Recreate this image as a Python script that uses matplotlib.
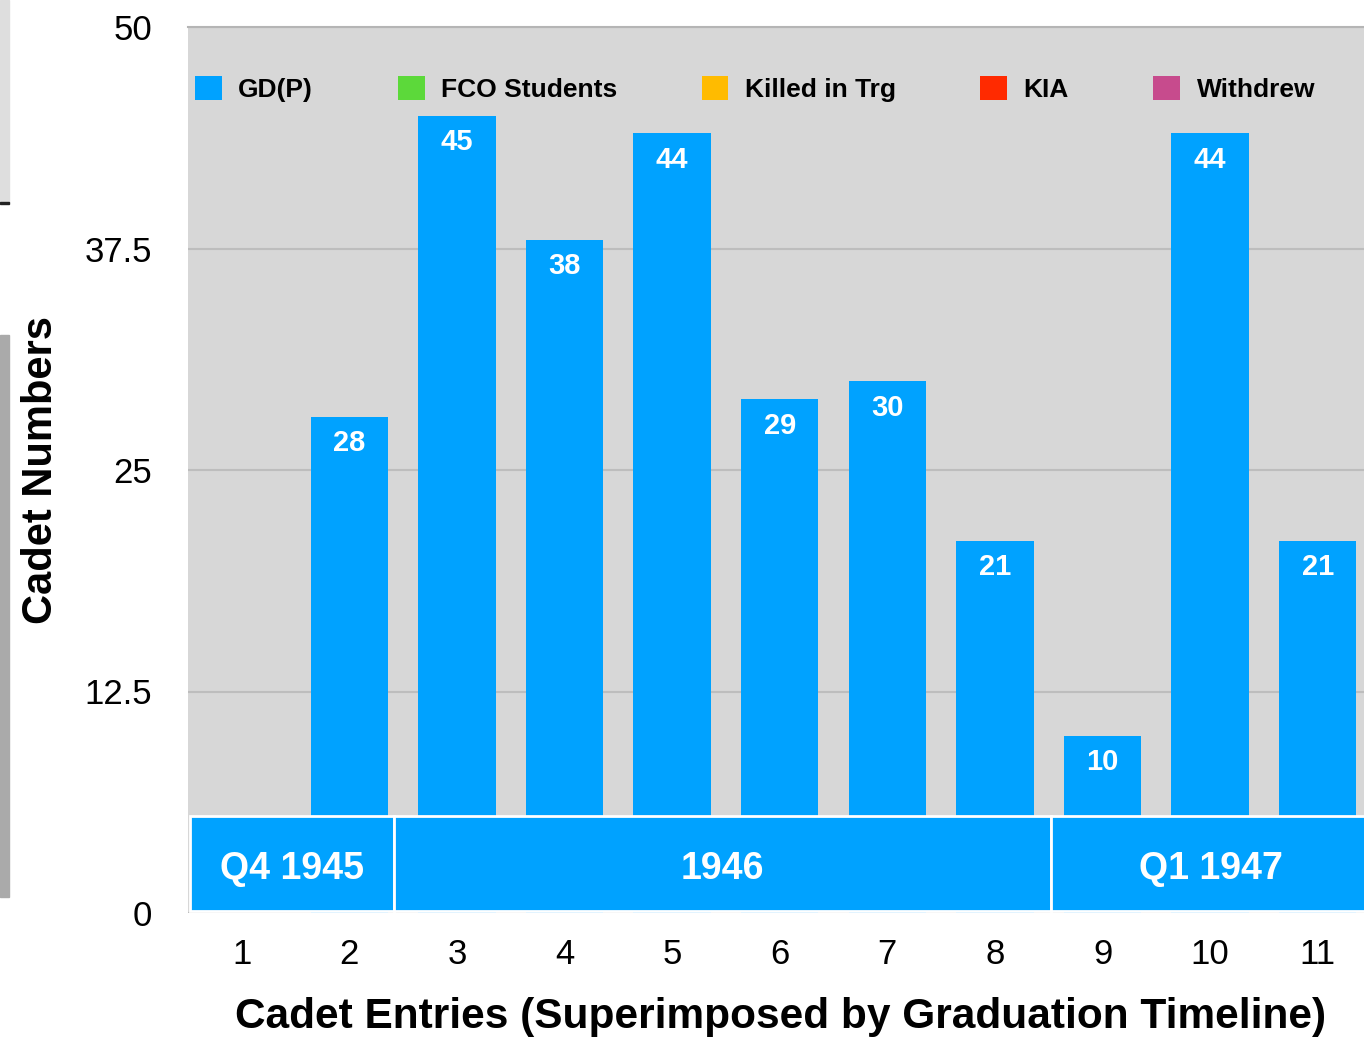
import matplotlib.pyplot as plt
from matplotlib.patches import Rectangle

# data
entries = [1, 2, 3, 4, 5, 6, 7, 8, 9, 10, 11]
gdp = [0, 28, 45, 38, 44, 29, 30, 21, 10, 44, 21]
fco = [0] * 11
killed_trg = [0] * 11
kia = [0] * 11
withdrew = [0] * 11
series_names = ['GD(P)', 'FCO Students', 'Killed in Trg', 'KIA', 'Withdrew']
series_colors = ['#00a2ff', '#5cd93a', '#ffbb00', '#ff2a00', '#c74b8d']
periods = ['Q4 1945', '1946', 'Q1 1947']
period_edges = [0.52, 2.41, 8.52, 11.5]
y_ticks = [0, 12.5, 25, 37.5, 50]
y_ticklabels = ['0', '12.5', '25', '37.5', '50']

plt.rcParams['font.family'] = ['Liberation Sans', 'DejaVu Sans']

fig = plt.figure(figsize=(13.64, 10.37), dpi=100)
ax = fig.add_axes([188 / 1364, 1 - 913 / 1037, 1 - 188 / 1364, 886 / 1037])
ax.set_facecolor('#d7d7d7')

# cropped screenshot remnants on the far left
fig.patches.append(Rectangle((0, 1 - 202 / 1037), 9 / 1364, 202 / 1037,
                             transform=fig.transFigure, color='#dedede'))
fig.patches.append(Rectangle((0, 1 - 204 / 1037), 9 / 1364, 2 / 1037,
                             transform=fig.transFigure, color='#222222'))
fig.patches.append(Rectangle((0, 1 - 897 / 1037), 9 / 1364, 562 / 1037,
                             transform=fig.transFigure, color='#aaaaaa'))

width = 0.72
bottom = [0] * 11
for name, vals, col in zip(series_names, [gdp, fco, killed_trg, kia, withdrew], series_colors):
    ax.bar(entries, vals, width, bottom=bottom, color=col, label=name, zorder=2)
    bottom = [b + v for b, v in zip(bottom, vals)]

for x, v in zip(entries, gdp):
    if v > 0:
        ax.annotate(str(v), (x, v), xytext=(0, -9), textcoords='offset points',
                    ha='center', va='top', color='white', fontsize=21, fontweight='bold', zorder=4)

# graduation timeline boxes
for i, p in enumerate(periods):
    x0, x1 = period_edges[i], period_edges[i + 1]
    ax.add_patch(Rectangle((x0, 0.1), x1 - x0, 5.4, facecolor='#00a2ff',
                           edgecolor='white', linewidth=2, zorder=3))
    ax.text((x0 + x1) / 2, 2.5, p, ha='center', va='center', color='white',
            fontsize=27, fontweight='bold', zorder=4)

ax.set_xlim(0.5, 11.43)
ax.set_ylim(0, 50)
ax.set_xticks(entries)
ax.set_xticklabels([str(e) for e in entries])
ax.set_yticks(y_ticks)
ax.set_yticklabels(y_ticklabels)
ax.tick_params(axis='both', length=0, labelsize=25)
ax.tick_params(axis='x', pad=18)
ax.tick_params(axis='y', pad=26)
ax.grid(axis='y', color='#bdbdbd', linewidth=1.5, zorder=1)
ax.set_axisbelow(True)
for s in ['left', 'right', 'bottom']:
    ax.spines[s].set_visible(False)
ax.spines['top'].set_color('#b5b5b5')
ax.spines['top'].set_linewidth(1.5)

ax.set_ylabel('Cadet Numbers', fontsize=30, fontweight='bold')
ax.yaxis.set_label_coords(-0.108, 0.5)
ax.set_xlabel('Cadet Entries (Superimposed by Graduation Timeline)', fontsize=30.5, fontweight='bold')
ax.xaxis.set_label_coords(0.504, -0.095)

ax.legend(loc='upper left', bbox_to_anchor=(7 / 1176, 1 - 49 / 886), ncol=5, frameon=False,
          prop={'weight': 'bold', 'size': 19}, handlelength=1.02, handleheight=1.02,
          handletextpad=0.62, columnspacing=3.2, borderpad=0, borderaxespad=0)

fig.savefig('out.png', dpi=100)
